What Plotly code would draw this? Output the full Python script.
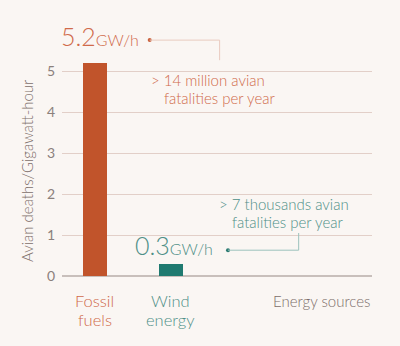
import plotly.graph_objects as go

# Data
categories = ["Fossil fuels", "Wind energy"]
deaths_per_gwh = [5.2, 0.3]
bar_colors = ["#c1542b", "#1f7a70"]
label_colors = ["#d06a4a", "#4e8f87"]
label_lines = [["Fossil", "fuels"], ["Wind", "energy"]]
fatality_notes = [["> 14 million avian", "fatalities per year"],
                  ["> 7 thousands avian", "fatalities per year"]]
y_ticks = [0, 1, 2, 3, 4, 5]

FONT = "Lato"
BG = "#faf6f3"
PLOT_H = 346 - 17.7 - 70

fig = go.Figure()
fig.add_trace(go.Bar(
    x=[0, 1], y=deaths_per_gwh, width=0.32,
    marker=dict(color=bar_colors, line=dict(width=0)),
    hoverinfo="skip", showlegend=False,
))

# Value callouts: big number + unit, dot and elbow connector to a note
callouts = [
    dict(lx=0.06, ly=deaths_per_gwh[0] + 0.65, dot=(0.72, deaths_per_gwh[0] + 0.56),
         ex=1.64, ey=deaths_per_gwh[0] + 0.07,
         notes=[(1.49, deaths_per_gwh[0] - 0.41), (1.64, deaths_per_gwh[0] - 0.85)],
         line="#e9cbbf", dotc="#c9603c"),
    dict(lx=1.04, ly=deaths_per_gwh[1] + 0.46, dot=(1.75, deaths_per_gwh[1] + 0.33),
         ex=2.68, ey=deaths_per_gwh[1] + 0.75,
         notes=[(2.49, deaths_per_gwh[1] + 1.46), (2.53, deaths_per_gwh[1] + 1.02)],
         line="#9cc2bd", dotc="#2c7b72"),
]

for i, c in enumerate(callouts):
    col = label_colors[i]
    fig.add_annotation(
        x=c["lx"], y=c["ly"], xref="x", yref="y", showarrow=False,
        text=f"{deaths_per_gwh[i]}<span style='font-size:16px'>GW/h</span>",
        font=dict(family=FONT, size=25, color=col, weight=300),
        xanchor="center", yanchor="middle",
    )
    dx, dy = c["dot"]
    fig.add_shape(type="line", x0=dx, y0=dy, x1=c["ex"], y1=dy,
                  line=dict(color=c["line"], width=1))
    fig.add_shape(type="line", x0=c["ex"], y0=dy, x1=c["ex"], y1=c["ey"],
                  line=dict(color=c["line"], width=1))
    fig.add_trace(go.Scatter(x=[dx], y=[dy], mode="markers",
                             marker=dict(size=4, color=c["dotc"]),
                             hoverinfo="skip", showlegend=False))
    for (nx, ny), t in zip(c["notes"], fatality_notes[i]):
        fig.add_annotation(
            x=nx, y=ny, xref="x", yref="y", showarrow=False, text=t,
            font=dict(family=FONT, size=15, color=col, weight=300),
            xanchor="center", yanchor="middle", borderpad=0,
        )

# Category labels under bars, one line each
for i, lines in enumerate(label_lines):
    for j, t in enumerate(lines):
        fig.add_annotation(
            x=i, y=-(25 + j * 19.5) / PLOT_H, xref="x", yref="paper", showarrow=False,
            text=t, font=dict(family=FONT, size=16.5, color=label_colors[i], weight=300),
            xanchor="center", yanchor="middle", borderpad=0,
        )

fig.add_annotation(
    x=1, y=-25 / PLOT_H, xref="paper", yref="paper", showarrow=False,
    text="Energy sources", font=dict(family=FONT, size=15, color="#7d6e6a", weight=300),
    xanchor="right", yanchor="middle",
)

# Y axis title
fig.add_annotation(
    x=-35 / 310, y=105 / PLOT_H, xref="paper", yref="paper", showarrow=False,
    text="Avian deaths/Gigawatt-hour", textangle=-90,
    font=dict(family=FONT, size=15, color="#7d6e6a", weight=300),
    xanchor="center", yanchor="middle",
)

fig.update_layout(
    width=400, height=346,
    margin=dict(l=62, r=28, t=17.7, b=70),
    paper_bgcolor=BG, plot_bgcolor=BG,
    font=dict(family=FONT),
    xaxis=dict(range=[-0.434, 3.645], showticklabels=False, showgrid=False,
               zeroline=False, showline=False, ticks=""),
    yaxis=dict(range=[0, 6.3], tickvals=y_ticks, showgrid=True,
               gridcolor="#e2cfc8", gridwidth=1, zeroline=True,
               zerolinecolor="#c8bfbb", zerolinewidth=1.5, showline=False,
               ticks="", tickfont=dict(family=FONT, size=14, color="#8b807c"),
               ticklabelstandoff=6),
    bargap=0,
)

fig.write_html("out.html")
